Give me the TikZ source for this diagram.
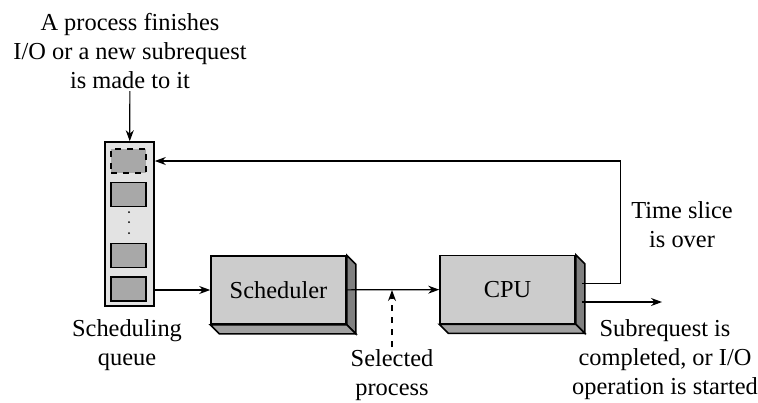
\documentclass[tikz,border=0pt]{standalone}
\usepackage{fontspec}
\setmainfont{Liberation Serif}
\usetikzlibrary{arrows.meta,calc}

\definecolor{frontgray}{gray}{0.80}
\definecolor{sidegray}{gray}{0.50}
\definecolor{basegray}{gray}{0.63}
\definecolor{queuegray}{gray}{0.89}
\definecolor{slotgray}{gray}{0.66}

% side and bottom faces of a raised box
\newcommand{\boxdepth}[1]{%
  \draw[line width=0.8pt, fill=sidegray] (#1.north east) -- ++(4.5pt,-4.5pt) -- ($(#1.south east)+(4.5pt,-4.5pt)$) -- (#1.south east) -- cycle;
  \draw[line width=0.8pt, fill=basegray] (#1.south west) -- ($(#1.south west)+(4.5pt,-4.5pt)$) -- ($(#1.south east)+(4.5pt,-4.5pt)$) -- (#1.south east) -- cycle;}

\begin{document}
\begin{tikzpicture}[x=0.5pt, y=-0.5pt, font=\fontsize{12.2}{14.5}\selectfont,
    arrow/.style={-{Stealth[length=5.5pt,width=4pt]}, line width=0.6pt},
    block/.style={draw, line width=0.8pt, fill=frontgray, minimum width=67.5pt, minimum height=34pt},
    slot/.style={draw, line width=0.8pt, fill=slotgray, minimum width=17.5pt, minimum height=12pt},
    note/.style={align=center, inner sep=1pt}]

    \useasboundingbox (0,0) rectangle (758,402);

    % Nodes
    \node (arrive) [note] at (130,51) {A process finishes\\I/O or a new subrequest\\is made to it};
    \node (queue) [draw, line width=0.8pt, fill=queuegray, minimum width=24.5pt, minimum height=82pt] at (129.5,224) {};
    \node (slot1) [slot, dashed] at (128.5,161) {};
    \node (slot2) [slot] at (128.5,194.5) {};
    \node (slot3) [slot] at (128.5,255.5) {};
    \node (slot4) [slot] at (128.5,289) {};
    \foreach \y in {212,222,233} \fill (129,\y) circle (0.5pt);
    \node (qlabel) [note] at (127,345) {Scheduling\\queue};
    \node (sched) [block] at (278.5,290) {Scheduler};
    \node (cpu) [block] at (507.5,289.5) {CPU};
    \node (selected) [note] at (392,375) {Selected\\process};
    \node (slice) [note] at (682,225) {Time slice\\is over};
    \node (finish) [note] at (665,360) {Subrequest is\\completed, or I/O\\operation is started};
    \coordinate (done) at (662,302);

    \boxdepth{sched}
    \boxdepth{cpu}

    % Arrows
    \draw [arrow] (arrive) -- (queue);
    \draw [arrow] (queue.east |- sched.west) -- (sched.west);
    \draw [arrow] (sched) -- (cpu);
    \draw [arrow, dashed] (selected) -- (selected |- sched.east);
    \draw [arrow] ([shift={(3pt,3pt)}]cpu.east) -- ++(19.5pt,0) |- (slot1 -| queue.east);
    \draw [arrow] ([shift={(3pt,-6.25pt)}]cpu.east) -- (done);

\end{tikzpicture}
\end{document}
